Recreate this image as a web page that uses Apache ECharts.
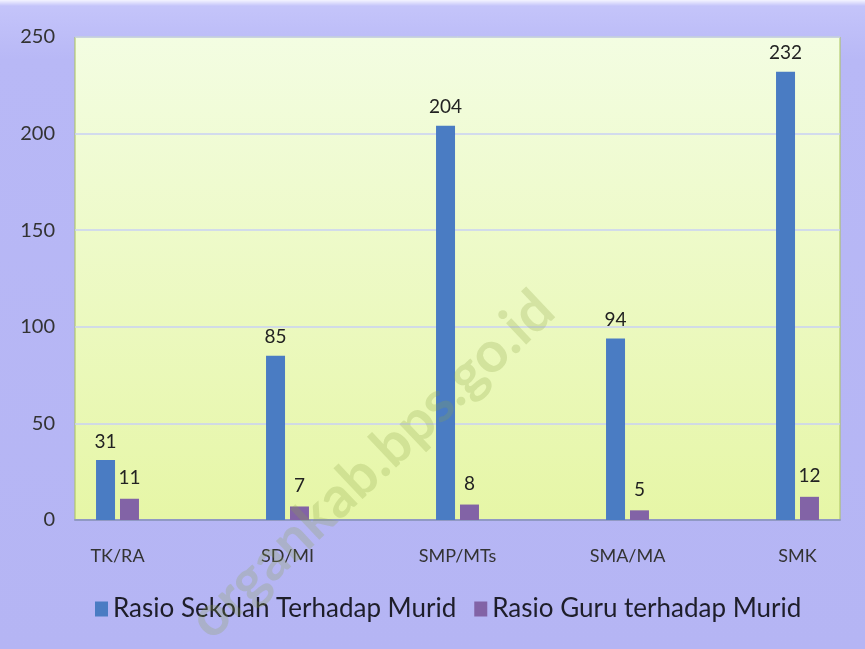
<!DOCTYPE html>
<html>
<head>
<meta charset="utf-8">
<script src="https://cdn.jsdelivr.net/npm/echarts@6/dist/echarts.min.js"></script>
<style>
html,body{margin:0;padding:0;}
#main{width:865px;height:649px;background:linear-gradient(180deg,#f4f4ff 0px,#c4c4fa 6px,#b8b8f6 60px,#b5b5f4 100%);}
</style>
</head>
<body>
<div id="main"></div>
<script>
var categories = ['TK/RA','SD/MI','SMP/MTs','SMA/MA','SMK'];
var sekolahMurid = [31,85,204,94,232];
var guruMurid = [11,7,8,5,12];
var yTicks = {min:0,max:250,step:50};
var seriesNames = ['Rasio Sekolah Terhadap Murid','Rasio Guru terhadap Murid'];

var font = 'Lato';
var myChart = echarts.init(document.getElementById('main'));
var option = {
	backgroundColor: 'transparent',
	animation: false,
	textStyle: {fontFamily: font},
	grid: [
		{left: 75, right: 25, top: 37, bottom: 129, show: true, borderColor: '#a9c25a', borderWidth: 1,
			backgroundColor: new echarts.graphic.LinearGradient(0,0,0,1,[
				{offset:0,color:'#f3fde2'},
				{offset:1,color:'#e6f6a6'}
			])},
		{left: 117.5, right: 67.5, top: 37, bottom: 129}
	],
	legend: {
		left: 90, top: 591,
		itemWidth: 13, itemHeight: 15, itemGap: 18,
		icon: 'rect',
		textStyle: {fontSize: 26, color: '#1e1e2a', fontFamily: font},
		data: seriesNames
	},
	xAxis: [
		{gridIndex: 0, type: 'value', min: 0, max: 1,
			axisLine: {show: true, lineStyle: {color: '#9099c4', width: 2}},
			axisTick: {show: false}, axisLabel: {show: false}, splitLine: {show: false}},
		{gridIndex: 1, type: 'category', boundaryGap: false, data: categories,
			axisLine: {show: false}, axisTick: {show: false},
			axisLabel: {margin: 27, fontSize: 18, color: '#333', fontFamily: font, interval: 0}}
	],
	yAxis: [
		{gridIndex: 0, type: 'value', min: yTicks.min, max: yTicks.max, interval: yTicks.step,
			axisLine: {show: false}, axisTick: {show: false},
			axisLabel: {margin: 20, fontSize: 20, color: '#333', fontFamily: font},
			splitLine: {lineStyle: {color: '#c9d0f4', width: 1.5}}},
		{gridIndex: 1, type: 'value', min: yTicks.min, max: yTicks.max, show: false}
	],
	series: [
		{name: seriesNames[0], type: 'bar', xAxisIndex: 1, yAxisIndex: 1, clip: false,
			barWidth: 19, barGap: '26%', data: sekolahMurid,
			itemStyle: {color: '#4a7cc3'},
			label: {show: true, position: 'top', distance: 9, fontSize: 19, color: '#222', fontFamily: font}},
		{name: seriesNames[1], type: 'bar', xAxisIndex: 1, yAxisIndex: 1, clip: false,
			barWidth: 19, barGap: '26%', data: guruMurid,
			itemStyle: {color: '#8263a6'},
			label: {show: true, position: 'top', distance: 11, fontSize: 19, color: '#222', fontFamily: font}}
	],
	graphic: [
		{type: 'text', x: 372, y: 465, rotation: Math.PI * 0.241, z: 100,
			style: {text: 'organkab.bps.go.id', font: 'bold 57px ' + font,
				fill: 'rgba(140,165,70,0.25)', align: 'center', verticalAlign: 'middle'}}
	]
};
myChart.setOption(option);
</script>
</body>
</html>
